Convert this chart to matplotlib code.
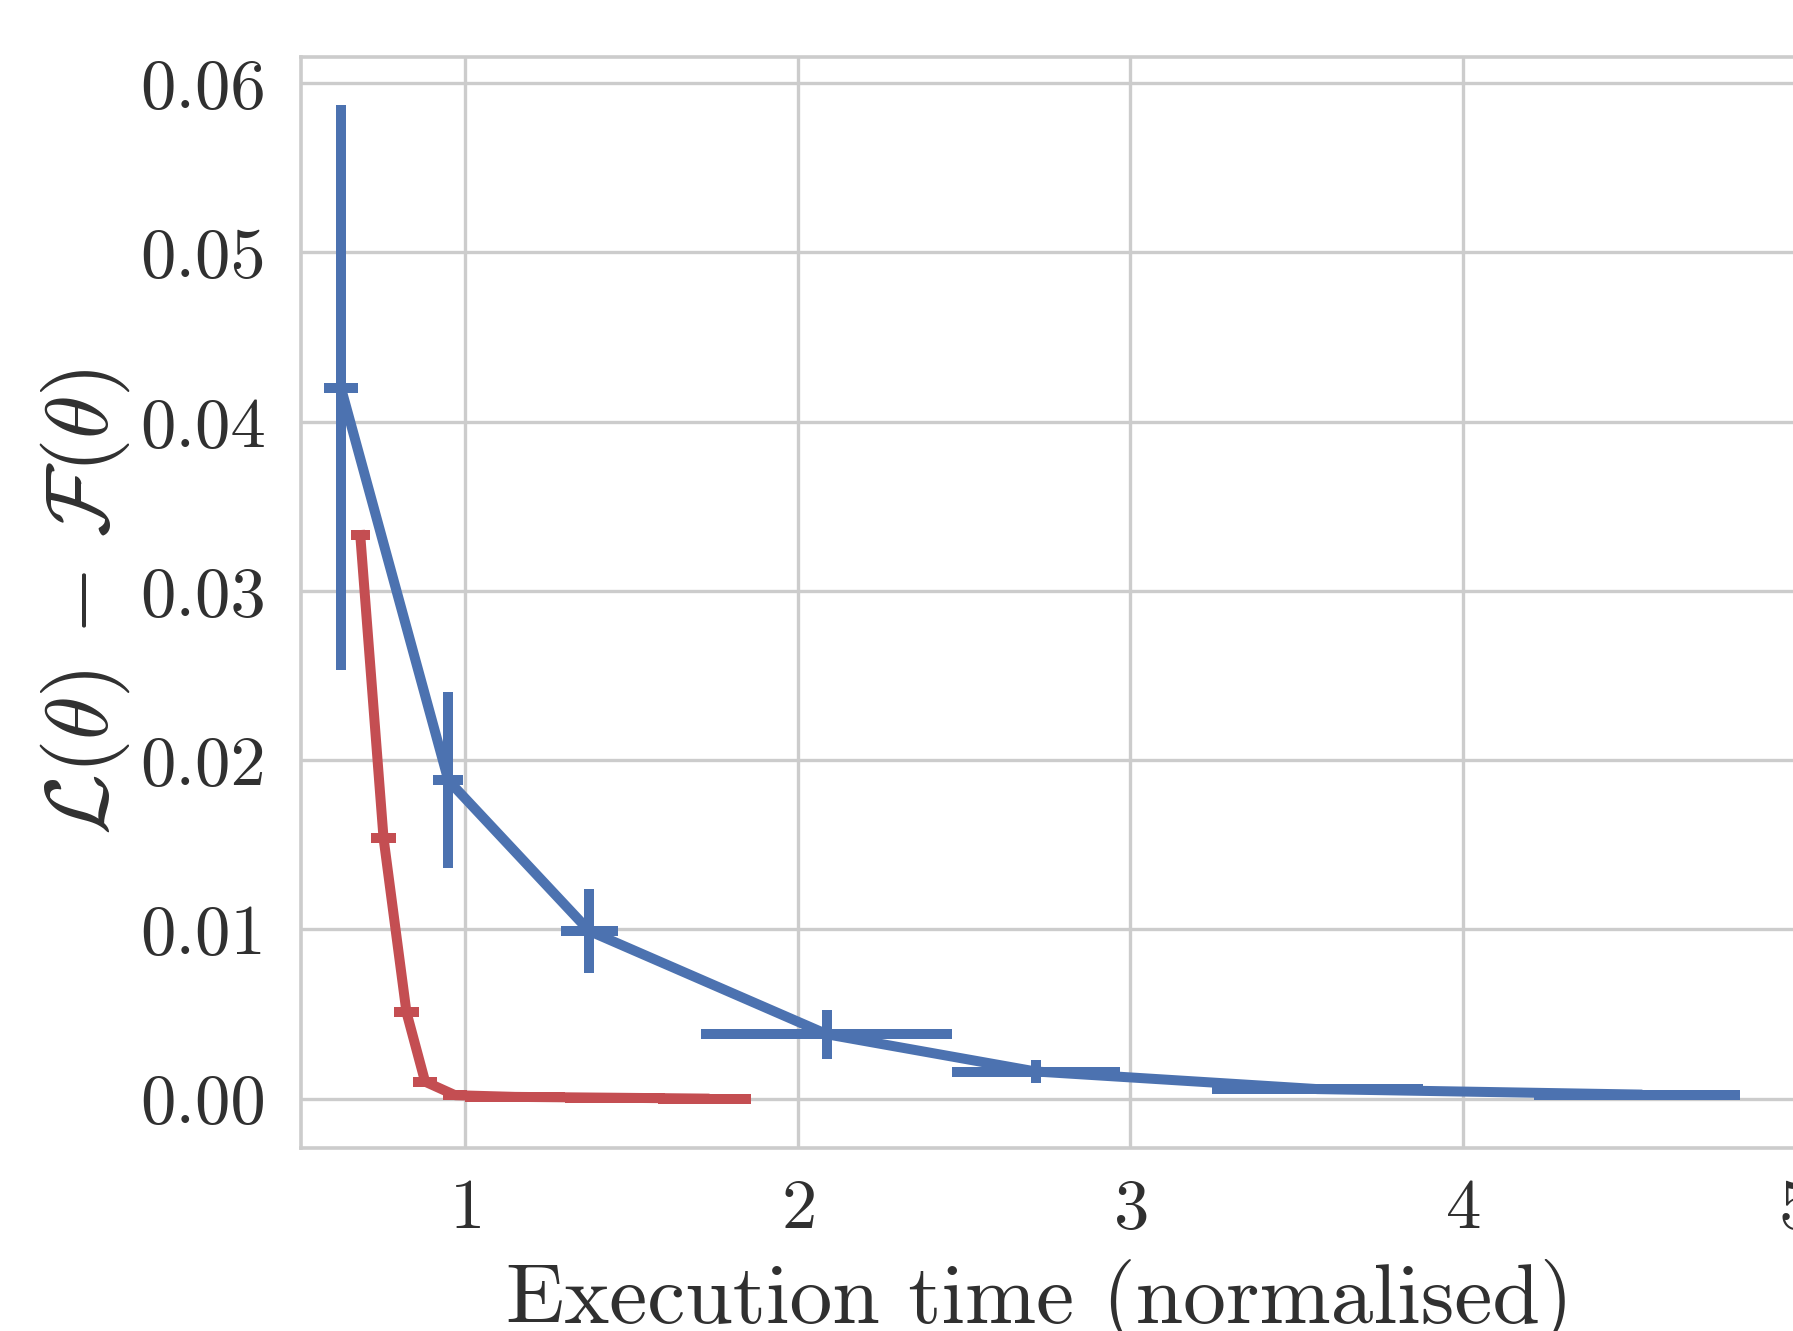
import numpy as np
import matplotlib
matplotlib.use("Agg")
import matplotlib.pyplot as plt

# blue series (x, y with errors in both directions)
blue_x = [0.627, 0.950, 1.374, 2.088, 2.716, 3.563, 4.525]
blue_y = [0.0420, 0.0188, 0.0099, 0.0038, 0.0016, 0.00056, 0.00024]
blue_xerr = [0.050, 0.045, 0.085, 0.377, 0.253, 0.317, 0.310]
blue_yerr = [0.0167, 0.0052, 0.0025, 0.00145, 0.00068, 0.0001, 0.00005]

# red series
red_x = [0.685, 0.755, 0.824, 0.880, 0.970, 1.150, 1.450, 1.720]
red_y = [0.0333, 0.0154, 0.0051, 0.0010, 0.0002, 0.0001, 0.00005, 0.0]
red_xerr = [0.029, 0.039, 0.039, 0.035, 0.035, 0.150, 0.150, 0.140]
red_yerr = [0.0001, 0.0001, 0.0001, 0.0001, 0.0, 0.0, 0.0, 0.0]

x_ticks = [1, 2, 3, 4, 5]
y_ticks = [0.00, 0.01, 0.02, 0.03, 0.04, 0.05, 0.06]

BLUE = "#4C72B0"
RED = "#C44E52"
GRID = "#cccccc"
TEXT = "#303030"

plt.rcParams["font.family"] = "serif"
plt.rcParams["font.serif"] = ["cmr10"]
plt.rcParams["mathtext.fontset"] = "cm"
plt.rcParams["axes.formatter.use_mathtext"] = True

fig = plt.figure(figsize=(8.965, 6.655), dpi=200)
ax = fig.add_axes([0.1679, 0.1375, 0.8334, 0.8199])

lw = 3.6
ax.errorbar(blue_x, blue_y, xerr=blue_xerr, yerr=blue_yerr, fmt="-",
            color=BLUE, lw=lw, elinewidth=lw, capsize=0, zorder=3)
ax.errorbar(red_x, red_y, xerr=red_xerr, yerr=red_yerr, fmt="-",
            color=RED, lw=lw, elinewidth=lw, capsize=0, zorder=3)

ax.set_xlim(0.507, 5.0)
ax.set_ylim(-0.00292, 0.06157)
ax.set_xticks(x_ticks)
ax.set_yticks(y_ticks)
ax.yaxis.set_major_formatter(matplotlib.ticker.FormatStrFormatter("%.2f"))

ax.grid(True, color=GRID, lw=1.2)
ax.set_axisbelow(True)
for s in ax.spines.values():
    s.set_color(GRID)
    s.set_linewidth(1.3)
ax.tick_params(axis="both", length=0, labelsize=25.5, colors=TEXT)
ax.tick_params(axis="x", pad=11)
ax.tick_params(axis="y", pad=12.5)

ax.set_xlabel("Execution time (normalised)", fontsize=30.8, color=TEXT)
ax.set_ylabel(r"$\mathcal{L}(\theta)\,-\,\mathcal{F}(\theta)$", fontsize=32, color=TEXT)
ax.xaxis.set_label_coords(0.494, -0.102)
ax.yaxis.set_label_coords(-0.113, 0.5)

fig.savefig("out.png", dpi=200)
